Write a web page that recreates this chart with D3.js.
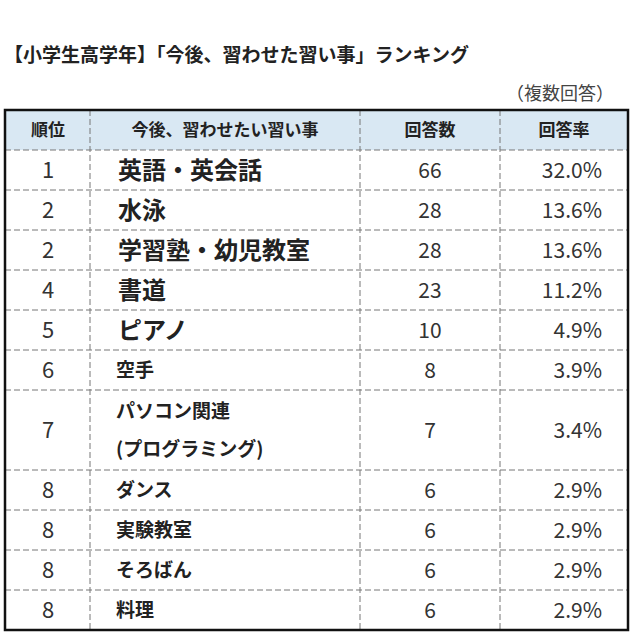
<!DOCTYPE html>
<html><head><meta charset="utf-8">
<script src="https://cdn.jsdelivr.net/npm/d3@7"></script>
<style>body{margin:0;background:#fff}</style>
</head><body><svg id="c" width="640" height="640"></svg>
<script>
const title = "【小学生高学年】「今後、習わせた習い事」ランキング";
const note = "（複数回答）";
const headers = ["順位", "今後、習わせたい習い事", "回答数", "回答率"];
const ranks = [1, 2, 2, 4, 5, 6, 7, 8, 8, 8, 8];
const names = ["英語・英会話", "水泳", "学習塾・幼児教室", "書道", "ピアノ", "空手",
  "パソコン関連\n(プログラミング)", "ダンス", "実験教室", "そろばん", "料理"];
const counts = [66, 28, 28, 23, 10, 8, 7, 6, 6, 6, 6];
const rates = [32.0, 13.6, 13.6, 11.2, 4.9, 3.9, 3.4, 2.9, 2.9, 2.9, 2.9];

const svg = d3.select("#c");
const font = "'Noto Sans CJK JP', sans-serif";
const tLeft = 5, tRight = 628, tTop = 110, headH = 40, tBottom = 630;
const colX = [tLeft, 90, 360, 500, tRight];

// row size in units: two-line names take twice the space
const units = names.map(n => n.includes("\n") ? 2 : 1);
const cum = [0];
units.forEach(u => cum.push(cum[cum.length - 1] + u));
const y = d3.scaleLinear().domain([0, cum[cum.length - 1]]).range([tTop + headH, tBottom]);

svg.append("text").attr("x", 4).attr("y", 62).attr("font-family", font)
  .attr("font-weight", "bold").attr("font-size", 19).attr("fill", "#222").text(title);
svg.append("text").attr("x", 614).attr("y", 100).attr("text-anchor", "end").attr("font-family", font)
  .attr("font-size", 18).attr("fill", "#444").text(note);

svg.append("rect").attr("x", tLeft).attr("y", tTop).attr("width", tRight - tLeft).attr("height", headH)
  .attr("fill", "#d9e8f3");

const headCx = [48, 225, 430, 564];
svg.selectAll(".h").data(headers).join("text")
  .attr("x", (d, i) => headCx[i]).attr("y", tTop + headH / 2 + 6).attr("text-anchor", "middle")
  .attr("font-family", font).attr("font-weight", "bold").attr("font-size", 17).attr("fill", "#222").text(d => d);

// dashed grid
const g = svg.append("g").attr("stroke", "#777").attr("stroke-dasharray", "6,3").attr("stroke-width", 1);
colX.slice(1, 4).forEach(x => g.append("line").attr("x1", x).attr("x2", x).attr("y1", tTop).attr("y2", tBottom));
cum.slice(0, -1).forEach(c => g.append("line").attr("x1", tLeft).attr("x2", tRight).attr("y1", y(c)).attr("y2", y(c)));

svg.append("rect").attr("x", tLeft).attr("y", tTop).attr("width", tRight - tLeft).attr("height", tBottom - tTop)
  .attr("fill", "none").attr("stroke", "#111").attr("stroke-width", 2.5);

names.forEach((n, i) => {
  const cy = (y(cum[i]) + y(cum[i + 1])) / 2;
  const big = i < 5;
  svg.append("text").attr("x", 48).attr("y", cy + 8).attr("text-anchor", "middle").attr("font-family", font)
    .attr("font-size", 22).attr("fill", "#333").text(ranks[i]);
  const lines = n.split("\n");
  lines.forEach((l, k) => {
    svg.append("text").attr("x", big ? 118 : 116)
      .attr("y", cy + (big ? 9 : 7) + (k - (lines.length - 1) / 2) * 38)
      .attr("font-family", font).attr("font-weight", "bold").attr("font-size", big ? 24 : 19)
      .attr("fill", "#222").text(l);
  });
  svg.append("text").attr("x", 430).attr("y", cy + 8).attr("text-anchor", "middle").attr("font-family", font)
    .attr("font-size", 21).attr("fill", "#333").text(counts[i]);
  svg.append("text").attr("x", 602).attr("y", cy + 8).attr("text-anchor", "end").attr("font-family", font)
    .attr("font-size", 21).attr("fill", "#333").text(rates[i].toFixed(1) + "%");
});
</script></body></html>
